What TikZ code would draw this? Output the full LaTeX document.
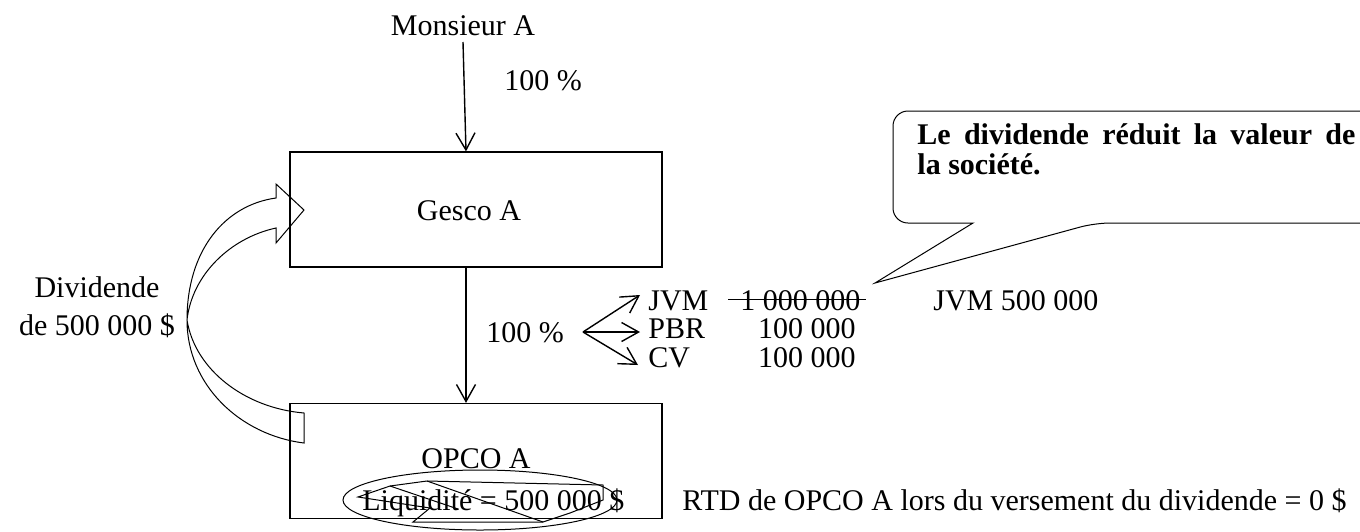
\documentclass[tikz,border=0pt]{standalone}
\usepackage{fontspec}
\setmainfont{Liberation Serif}
\usetikzlibrary{arrows.meta,calc}

\begin{document}
\begin{tikzpicture}[
    x=0.5pt, y=-0.5pt,
    font=\fontsize{15}{19}\selectfont,
    box/.style={draw=black, line width=0.6pt, minimum width=186pt, minimum height=57.5pt, inner sep=0pt},
    lbl/.style={inner sep=0pt, anchor=base},
    arr/.style={-{Straight Barb[length=8.5pt, width=9.5pt]}, line width=0.7pt},
    thinline/.style={line width=0.5pt}
]
\useasboundingbox (0,0) rectangle (1360,531);
\clip (0,0) rectangle (1360,531);

% ── Owner and the two companies ─────────────────────────────────────────────
\node[lbl] (monsieur) at (463,35) {Monsieur A};
\node[lbl] (topshare) at (543,90) {100 \%};
\node[box] (gesco) at (476,209.5) {};
\node[lbl] (gesconame) at (469,220) {Gesco A};
\node[box] (opco) at (476,461) {};
\node[lbl] (opconame) at (476,468) {OPCO A};
\node[lbl, anchor=base west] (cash) at (362,510) {Liquidité = 500 000 \$};
\node[lbl, anchor=base west] (rtd) at (682,510) {RTD de OPCO A lors du versement du dividende = 0 \$};

% ── Ownership arrows ─────────────────────────────────────────────────────────
\coordinate (stem) at (466,0);
\draw[arr] ($(monsieur.base)+(0,7)$ -| stem) -- (stem |- gesco.north);
\draw[arr] (stem |- gesco.south) -- (stem |- opco.north);
\node[lbl] (midshare) at (525,342) {100 \%};

% ── Split of the shares ──────────────────────────────────────────────────────
\coordinate (fork) at (583,332);
\node[lbl, anchor=base west] (jvm) at (648,310) {JVM};
\node[lbl, anchor=base west] (pbr) at (648,338) {PBR};
\node[lbl, anchor=base west] (cv) at (648,367) {CV};
\foreach \n/\dx/\dy in {jvm/-8/-15, pbr/-8/-6, cv/-10/-2} {
    \draw[arr] (fork) -- ($(\n.base west)+(\dx,\dy)$);
}
\node[lbl, anchor=base west] (oldjvm) at (740,310) {1 000 000};
\draw[thinline] ($(oldjvm.base west)+(-12,-11)$) -- ($(oldjvm.base east)+(5,-11)$);
\node[lbl, anchor=base east] (pbrval) at (856,338) {100 000};
\node[lbl, anchor=base east] (cvval) at (856,367) {100 000};
\node[lbl, anchor=base west] (newjvm) at (933,310) {JVM 500 000};

% ── Dividend paid up to Gesco ────────────────────────────────────────────────
\node[lbl, align=center] (divlabel) at (97,335) {Dividende\\de 500 000 \$};
\draw[thinline] (276,198) -- (276,184) -- (304,210) -- (276,243) -- (276,228)
    .. controls (230,238) and (192,275) .. (187,320)
    .. controls (195,370) and (245,408) .. (304,413) -- (304,443)
    .. controls (240,435) and (187,385) .. (187,320)
    .. controls (187,250) and (225,205) .. (276,198) -- cycle;

% ── Cash circled and struck out ──────────────────────────────────────────────
\draw[thinline] (480,500) ellipse [x radius=137, y radius=30];
\draw[thinline] (358,497) -- (390,486) -- (427,481) -- (603,485) -- (603,500)
    -- (570,513) -- (543,522) -- (413,522) -- (430,508) -- cycle;
\draw[thinline] (390,486) -- (458,509);
\draw[thinline] (427,481) -- (543,522);

% ── Callout ──────────────────────────────────────────────────────────────────
\coordinate (tip) at (875,283);
\draw[thinline] (tip) -- (973,223) [rounded corners=7.5pt] -- (893,223) -- (893,111)
    -- (1420,111) -- (1420,223) -- (1095,223) [sharp corners] -- cycle;
\node[lbl, anchor=base west, font=\fontsize{15}{15}\selectfont\bfseries] (note1) at (917,144)
    {\makebox[219pt][s]{Le dividende réduit la valeur de}};
\node[lbl, anchor=base west, font=\fontsize{15}{15}\selectfont\bfseries] (note2) at (917,174) {la société.};

\end{tikzpicture}
\end{document}
